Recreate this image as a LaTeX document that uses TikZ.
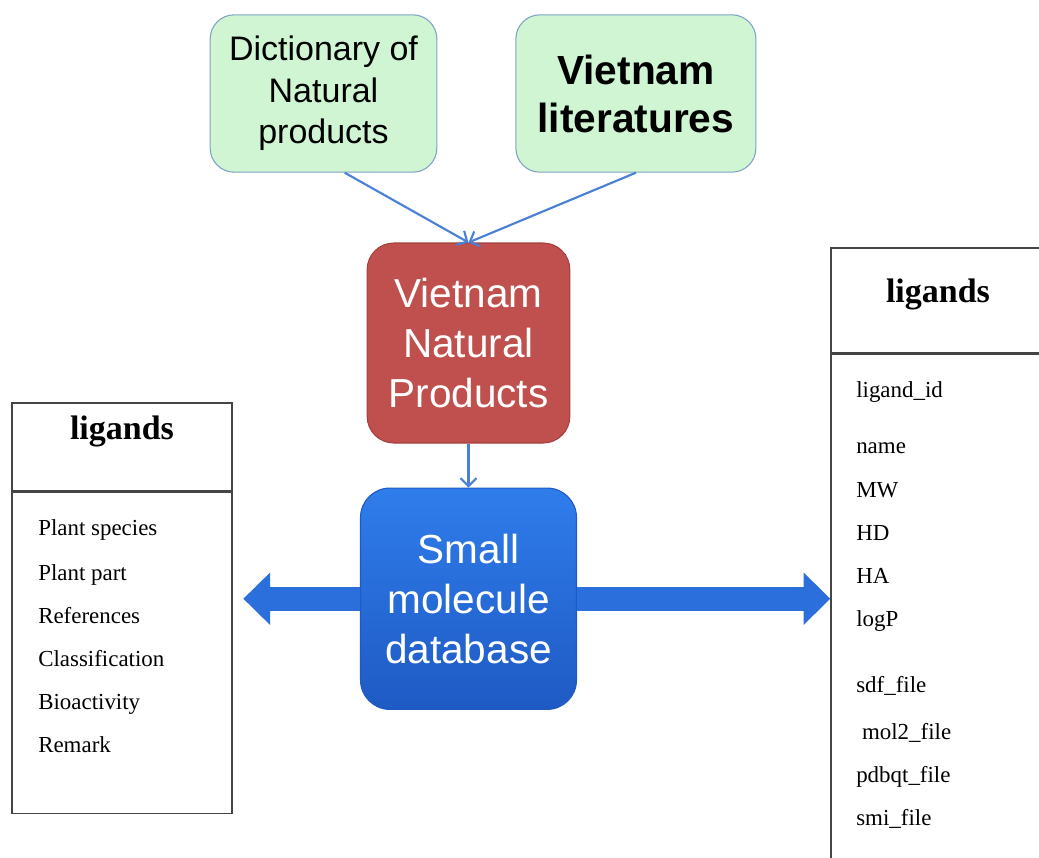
\documentclass[tikz,border=0pt]{standalone}
\usepackage{fontspec}
\setmainfont{Liberation Serif}
\setsansfont{Liberation Sans}
\usepackage{tikz}
\usetikzlibrary{arrows,arrows.meta,positioning}
\definecolor{boxgreen}{HTML}{CFF5D3}
\definecolor{boxedge}{HTML}{7FA3C6}
\definecolor{boxred}{HTML}{C0504D}
\definecolor{rededge}{HTML}{A4403D}
\definecolor{bluetop}{HTML}{2F7DEB}
\definecolor{bluebot}{HTML}{1F5AC4}
\definecolor{arrowblue}{HTML}{4A80D6}
\definecolor{bigblue}{HTML}{2A6FDC}
\definecolor{tableline}{HTML}{454545}
\tikzset{
    %Define standard arrow tip
    >=stealth',
    %Define style for boxes
    srcbox/.style={
           rectangle,
           rounded corners=18pt,
           fill=boxgreen,
           draw=boxedge, thick,
           align=center,
           text centered},
    dbbox/.style={
           rectangle,
           rounded corners=20pt,
           text=white,
           align=center,
           font=\sffamily\fontsize{30.4}{37.5}\selectfont,
           text centered},
    tabbox/.style={
           rectangle,
           draw=tableline,
           line width=1pt},
    tabtitle/.style={font=\bfseries\fontsize{25.5}{30}\selectfont},
    field/.style={font=\fontsize{17.2}{20}\selectfont, inner sep=0pt},
    % Define arrow style
    pil/.style={
           -{Straight Barb[length=6pt,width=12pt]},
           draw=arrowblue,
           line width=1.6pt},
    bigarrow/.style={
           -{Triangle[length=20pt,width=38pt]},
           draw=bigblue,
           line width=18pt}
}
\begin{document}
\begin{tikzpicture}[x=0.75pt,y=-0.75pt]
\useasboundingbox (0,0) rectangle (1039,857);
 %sources
\node[srcbox, minimum width=170pt, minimum height=118pt,
      font=\sffamily\fontsize{25.5}{31}\selectfont] (dnp) at (323.5,93.5) {Dictionary of\\Natural\\products};
\node[srcbox, minimum width=180pt, minimum height=118pt, right=58.5pt of dnp,
      font=\sffamily\bfseries\fontsize{30.5}{36}\selectfont] (vnl) {Vietnam\\literatures};
 %database boxes
\node[dbbox, fill=boxred, draw=rededge, thick, minimum width=152pt, minimum height=150pt] (vnp) at (468.5,343) {Vietnam\\Natural\\Products};
\node[dbbox, top color=bluetop, bottom color=bluebot, draw=bluebot, thick, rounded corners=22pt,
      minimum width=162pt, minimum height=166pt, below=33pt of vnp] (smd) {Small\\molecule\\database};
 %tables
\node[tabbox, minimum width=165pt, minimum height=66pt] (lhead) at (122,447) {};
\node[tabbox, minimum width=165pt, minimum height=240.75pt, below=0pt of lhead] (lbody) {};
\node[tabtitle, yshift=-21.5pt] at (lhead.north) {ligands};
\node[tabbox, minimum width=160.5pt, minimum height=78.75pt] (rhead) at (938,300.5) {};
\node[tabbox, minimum width=160.5pt, minimum height=387.75pt, below=0pt of rhead] (rbody) {};
\node[tabtitle, yshift=-35.5pt] at (rhead.north) {ligands};
\foreach \y/\t in {528/Plant species, 573/Plant part, 616/References,
                   659/Classification, 702/Bioactivity, 745/Remark}
    \node[field, anchor=base west] at (38,{\y+7}) {\t};
\foreach \y/\t in {390/ligand\_id, 446/name, 490/MW, 533/HD, 576/HA, 619/logP,
                   685/sdf\_file, 732/\ mol2\_file, 775/pdbqt\_file, 818/smi\_file}
    \node[field, anchor=base west] at (856,{\y+7}) {\t};
 %arrows
\draw[pil] (dnp.285) -- (vnp.north);
\draw[pil] (vnl.south) -- (vnp.north);
\draw[pil] (vnp.south) -- (smd.north);
\draw[bigarrow, shorten >=8pt] (smd.west) -- (smd.west -| lbody.east);
\draw[bigarrow] (smd.east) -- (smd.east -| rbody.west);
\end{tikzpicture}
\end{document}
